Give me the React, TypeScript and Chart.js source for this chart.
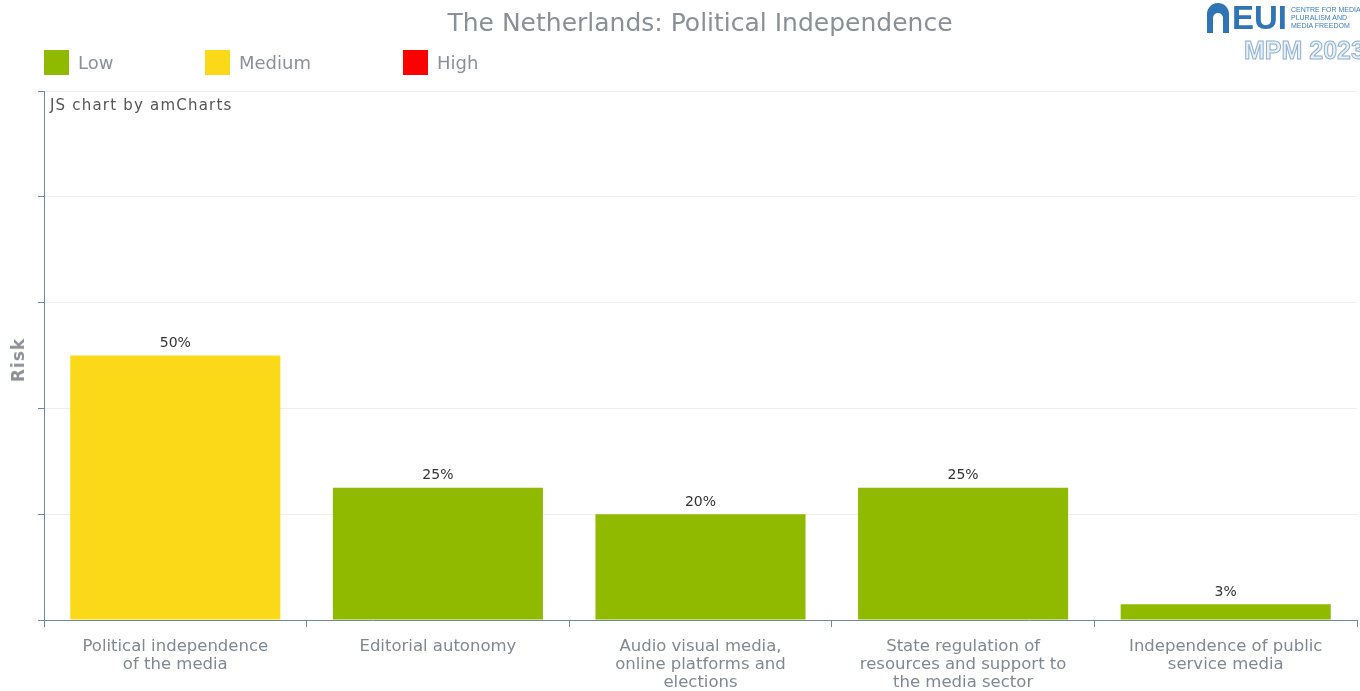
import React, { useEffect, useRef } from "react";
import { Chart, registerables } from "chart.js";

Chart.register(...registerables);

const categories: string[][] = [
  ["Political independence", "of the media"],
  ["Editorial autonomy"],
  ["Audio visual media,", "online platforms and", "elections"],
  ["State regulation of", "resources and support to", "the media sector"],
  ["Independence of public", "service media"],
];
const riskValues: number[] = [50, 25, 20, 25, 3];
const riskLevels: string[] = ["Medium", "Low", "Low", "Low", "Low"];
const legendLabels: string[] = ["Low", "Medium", "High"];
const yTicks: number[] = [0, 20, 40, 60, 80, 100];

const levelColors: Record<string, string> = {
  Low: "#8fba00",
  Medium: "#fbd918",
  High: "#ff0000",
};

const FONT = "'DejaVu Sans', Verdana, sans-serif";
const AXIS = "#6b8ca0";

const valueLabelPlugin = {
  id: "valueLabels",
  afterDatasetsDraw(chart: any) {
    const ctx = chart.ctx;
    const meta = chart.getDatasetMeta(0);
    ctx.save();
    ctx.font = `14px ${FONT}`;
    ctx.fillStyle = "#333333";
    ctx.textAlign = "center";
    ctx.textBaseline = "bottom";
    meta.data.forEach((bar: any, i: number) => {
      ctx.fillText(`${riskValues[i]}%`, bar.x, bar.y - 5);
    });
    ctx.restore();
  },
};

export default function App() {
  const canvasRef = useRef<HTMLCanvasElement | null>(null);

  useEffect(() => {
    if (!canvasRef.current) return;
    const chart = new Chart(canvasRef.current, {
      type: "bar",
      data: {
        labels: categories,
        datasets: [
          {
            data: riskValues,
            backgroundColor: riskLevels.map((l) => levelColors[l]),
            borderWidth: 0,
            categoryPercentage: 0.8,
            barPercentage: 1,
          },
        ],
      },
      options: {
        animation: false,
        responsive: true,
        maintainAspectRatio: false,
        layout: { padding: { left: 0, right: 3, top: 91, bottom: 0 } },
        plugins: {
          legend: { display: false },
          title: { display: false },
          tooltip: { enabled: false },
        },
        scales: {
          x: {
            grid: {
              display: true,
              drawOnChartArea: false,
              drawTicks: true,
              tickLength: 7,
              tickColor: AXIS,
              offset: true,
            },
            border: { color: AXIS, width: 1 },
            ticks: {
              color: "#808890",
              font: { family: FONT, size: 16.5, lineHeight: 1.09 },
              padding: 11,
              maxRotation: 0,
              autoSkip: false,
            },
            afterFit: (s: any) => {
              s.height = 71;
            },
          },
          y: {
            min: 0,
            max: 100,
            afterBuildTicks: (s: any) => {
              s.ticks = yTicks.map((v) => ({ value: v }));
            },
            grid: {
              color: "#eeeeee",
              drawTicks: true,
              tickLength: 6,
              tickColor: AXIS,
            },
            border: { color: AXIS, width: 1 },
            ticks: { display: false },
            afterFit: (s: any) => {
              s.width = 44;
            },
          },
        },
      },
      plugins: [valueLabelPlugin],
    });
    return () => chart.destroy();
  }, []);

  return (
    <div
      style={{
        position: "absolute",
        left: 0,
        top: 0,
        width: 1360,
        height: 691,
        overflow: "hidden",
        background: "#ffffff",
        fontFamily: FONT,
      }}
    >
      <div style={{ position: "absolute", left: 0, top: 0, width: 1360, height: 691 }}>
        <canvas ref={canvasRef} />
      </div>
      <div
        style={{
          position: "absolute",
          left: 0,
          width: 1400,
          top: 8,
          textAlign: "center",
          fontSize: 25,
          color: "#8a9096",
          whiteSpace: "nowrap",
        }}
      >
        The Netherlands: Political Independence
      </div>
      {legendLabels.map((l, i) => (
        <div
          key={l}
          style={{
            position: "absolute",
            left: [44, 205, 403][i],
            top: 50,
            display: "flex",
            alignItems: "center",
            height: 25,
          }}
        >
          <div style={{ width: 25, height: 25, background: levelColors[l] }} />
          <span style={{ marginLeft: 9, fontSize: 18, color: "#8a9199" }}>{l}</span>
        </div>
      ))}
      <div
        style={{
          position: "absolute",
          left: 50,
          top: 96,
          fontSize: 15,
          letterSpacing: 1.2,
          color: "#555555",
          whiteSpace: "nowrap",
        }}
      >
        JS chart by amCharts
      </div>
      <div
        style={{
          position: "absolute",
          left: 18,
          top: 360,
          transform: "translate(-50%, -50%) rotate(-90deg)",
          fontSize: 17,
          fontWeight: "bold",
          color: "#8a9096",
          letterSpacing: 1,
        }}
      >
        Risk
      </div>
      {/* EUI logo approximation */}
      <div
        style={{
          position: "absolute",
          left: 1207,
          top: 3,
          width: 22,
          height: 30,
          background: "#2f74b5",
          borderRadius: "11px 11px 0 0",
        }}
      >
        <div
          style={{
            position: "absolute",
            left: 6,
            top: 10,
            width: 10,
            height: 20,
            background: "#ffffff",
            borderRadius: "5px 5px 0 0",
          }}
        />
      </div>
      <div
        style={{
          position: "absolute",
          left: 1232,
          top: 0,
          fontSize: 33,
          fontWeight: "bold",
          color: "#2f74b5",
          fontFamily: "'Liberation Sans Narrow', 'Liberation Sans', sans-serif",
          lineHeight: "36px",
        }}
      >
        EUI
      </div>
      <div
        style={{
          position: "absolute",
          left: 1291,
          top: 6,
          fontSize: 7,
          lineHeight: "8px",
          color: "#3a7bbd",
          fontFamily: "'Liberation Sans', sans-serif",
          whiteSpace: "nowrap",
        }}
      >
        CENTRE FOR MEDIA
        <br />
        PLURALISM AND
        <br />
        MEDIA FREEDOM
      </div>
      <div
        style={{
          position: "absolute",
          left: 1244,
          top: 36,
          fontSize: 25,
          fontWeight: "bold",
          color: "#e8f0f8",
          WebkitTextStroke: "1px #8fb0cf",
          whiteSpace: "nowrap",
          fontFamily: "'Liberation Sans', sans-serif",
        }}
      >
        MPM 2023
      </div>
    </div>
  );
}
